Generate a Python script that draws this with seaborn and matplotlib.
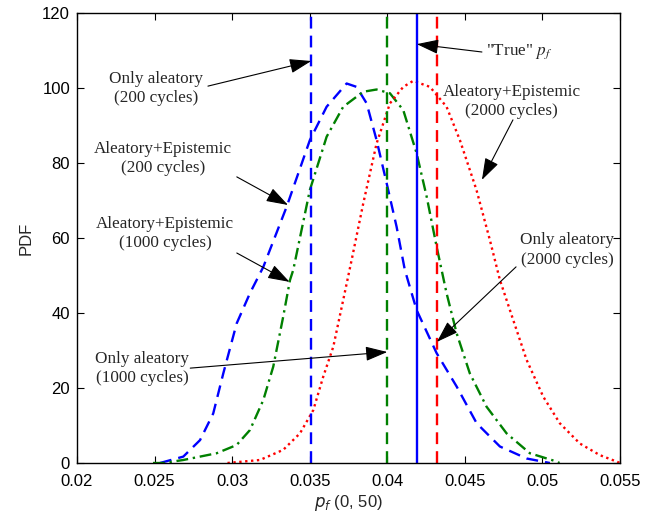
import numpy as np
import pandas as pd
import seaborn as sns
import matplotlib
matplotlib.use("Agg")
import matplotlib.pyplot as plt

# ---- data ----
x_blue = [0.02535, 0.02685, 0.02793, 0.02878, 0.02943, 0.03029, 0.03115, 0.03201,
          0.03351, 0.03501, 0.03609, 0.03738, 0.03802, 0.03867, 0.03931, 0.03996,
          0.04060, 0.04113, 0.04189, 0.04318, 0.04447, 0.04576, 0.04726, 0.04898,
          0.05048]
y_blue = [0, 1.7, 6.1, 13.2, 23.9, 37.2, 45.3, 52.3, 68.3, 86.1, 95, 101.2, 100.3,
          95.9, 86.1, 74.6, 63, 51.5, 40.8, 29.3, 20.4, 10.6, 4.4, 1.2, 0]

x_green = [0.0249, 0.02556, 0.02685, 0.0290, 0.03029, 0.03115, 0.03201, 0.03265,
           0.03329, 0.03373, 0.03394, 0.03501, 0.03609, 0.03716, 0.03845, 0.03931,
           0.04017, 0.04103, 0.04189, 0.04254, 0.04318, 0.04382, 0.04447, 0.04532,
           0.0464, 0.04769, 0.04919, 0.05091, 0.0511]
y_green = [0, 0, 0.8, 2.6, 4.8, 8.8, 16.8, 25.7, 39, 48.8, 51.5, 72.8, 87, 95, 99,
           99.6, 98.6, 94.1, 82.6, 71, 57.7, 45.3, 34.6, 23.9, 15, 7.9, 2.6, 0.4, 0]

x_red = [0.0297, 0.03179, 0.03329, 0.03437, 0.03523, 0.03587, 0.03652, 0.03716,
         0.0377, 0.03845, 0.03931, 0.04017, 0.04103, 0.04167, 0.04275, 0.04382,
         0.04468, 0.04575, 0.04661, 0.04726, 0.04812, 0.04898, 0.05005, 0.05112,
         0.05241, 0.0537, 0.05477, 0.0550]
y_red = [0, 0.8, 3.5, 7.9, 14.1, 23, 31, 43.5, 54.1, 69.2, 85.2, 95.9, 100.3, 101.9,
         100.3, 95, 86.1, 72.8, 59.5, 48.8, 38.1, 27.5, 17.7, 10.6, 5.2, 2.1, 0.4, 0]

vline_x = [0.0351, 0.0400, 0.0419, 0.0432]
vline_colors = ["#0000ff", "#008000", "#0000ff", "#ff0000"]
vline_styles = [(0, (5, 3)), (0, (5, 3)), "-", (0, (5, 3))]

x_ticks = [0.02, 0.025, 0.03, 0.035, 0.04, 0.045, 0.05, 0.055]
x_ticklabels = ["0.02", "0.025", "0.03", "0.035", "0.04", "0.045", "0.05", "0.055"]
y_ticks = [0, 20, 40, 60, 80, 100, 120]

# annotations: text, text position, arrow tail, arrow tip
ann_text = ["Only aleatory\n(200 cycles)",
            "Aleatory+Epistemic\n(200 cycles)",
            "Aleatory+Epistemic\n(1000 cycles)",
            "Only aleatory\n(1000 cycles)",
            "\"True\" $p_f$",
            "Aleatory+Epistemic\n(2000 cycles)",
            "Only aleatory\n(2000 cycles)"]
ann_text_xy = [(0.0251, 100.0), (0.02554, 81.3), (0.02567, 61.3), (0.0242, 25.3),
               (0.04853, 109.6), (0.0480, 96.5), (0.0516, 56.8)]
ann_tail = [(0.02844, 100.5), (0.0303, 76.3), (0.0303, 56.0), (0.0273, 25.3),
            (0.0461, 109.6), (0.0481, 91.5), (0.0483, 52.3)]
ann_tip = [(0.0351, 107.2), (0.0336, 68.8), (0.0337, 48.3), (0.0400, 29.6),
           (0.0419, 111.7), (0.0461, 75.5), (0.0432, 32.3)]

# ---- plotting ----
sns.set_theme(style="ticks")
plt.rcParams["font.family"] = ["Liberation Sans", "DejaVu Sans"]

fig = plt.figure(figsize=(6.56, 5.22), dpi=100)
ax = fig.add_axes([77 / 656, 59 / 522, 543 / 656, 450 / 522])

df_b = pd.DataFrame({"x": x_blue, "y": y_blue})
df_g = pd.DataFrame({"x": x_green, "y": y_green})
df_r = pd.DataFrame({"x": x_red, "y": y_red})

sns.lineplot(data=df_b, x="x", y="y", ax=ax, color="#0000ff", lw=1.7,
             linestyle=(0, (5, 3)), sort=False, estimator=None)
sns.lineplot(data=df_g, x="x", y="y", ax=ax, color="#008000", lw=1.7,
             linestyle=(0, (5, 2, 1, 2)), sort=False, estimator=None)
sns.lineplot(data=df_r, x="x", y="y", ax=ax, color="#ff0000", lw=1.7,
             linestyle=(0, (1, 1.5)), sort=False, estimator=None)

for xv, c, ls in zip(vline_x, vline_colors, vline_styles):
    ax.axvline(xv, color=c, lw=1.7, linestyle=ls)

serif = ["Liberation Serif", "DejaVu Serif"]
for t, txy, tail, tip in zip(ann_text, ann_text_xy, ann_tail, ann_tip):
    ax.text(txy[0], txy[1], t, ha="center", va="center", fontsize=12.3,
            family=serif, math_fontfamily="stix", linespacing=1.25)
    ax.annotate("", xy=tip, xytext=tail,
                arrowprops=dict(arrowstyle="-|>,head_length=0.9,head_width=0.3",
                                mutation_scale=15,
                                color="black", lw=0.8, shrinkA=0, shrinkB=0))

ax.set_xlim(0.02, 0.055)
ax.set_ylim(0, 120)
ax.set_xticks(x_ticks)
ax.set_xticklabels(x_ticklabels)
ax.set_yticks(y_ticks)
ax.tick_params(direction="in", length=5, width=0.8, top=True, right=True,
               labelsize=12, colors="black", pad=5)
ax.tick_params(axis="x", pad=8)
for s in ax.spines.values():
    s.set_visible(True)
    s.set_color("black")
    s.set_linewidth(1.0)

ax.set_ylabel("PDF", fontsize=12, labelpad=6)
ax.set_xlabel("$p_f$ (0, 50)", fontsize=12, math_fontfamily="dejavusans", labelpad=3)

fig.savefig("out.png", dpi=100)
